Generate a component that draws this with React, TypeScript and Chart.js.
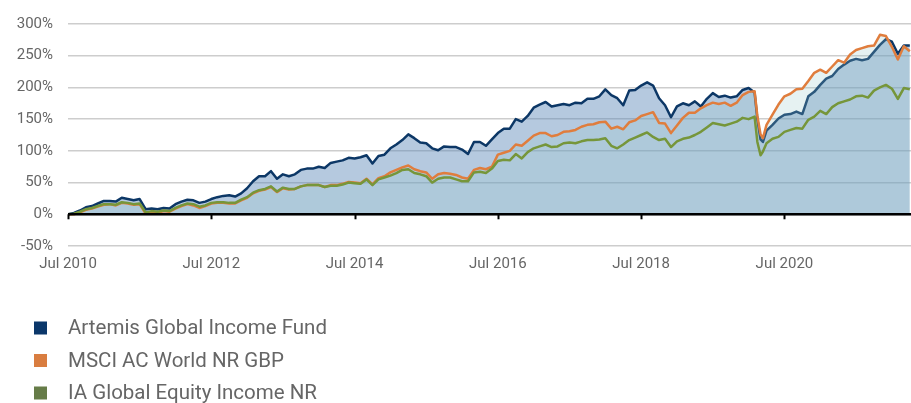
import React, { useEffect, useRef } from 'react';
import { Chart, registerables } from 'chart.js';

Chart.register(...registerables);

const seriesNames = [
  'Artemis Global Income Fund',
  'MSCI AC World NR GBP',
  'IA Global Equity Income NR',
];

const dates = [
  '2010-07-01', '2010-08-01', '2010-09-01', '2010-10-01', '2010-11-01', '2010-12-01',
  '2011-01-01', '2011-02-01', '2011-03-01', '2011-04-01', '2011-05-01', '2011-06-01',
  '2011-07-01', '2011-08-01', '2011-09-01', '2011-10-01', '2011-11-01', '2011-12-01',
  '2012-01-01', '2012-02-01', '2012-03-01', '2012-04-01', '2012-05-01', '2012-06-01',
  '2012-07-01', '2012-08-01', '2012-09-01', '2012-10-01', '2012-11-01', '2012-12-01',
  '2013-01-01', '2013-02-01', '2013-03-01', '2013-04-01', '2013-05-01', '2013-06-01',
  '2013-07-01', '2013-08-01', '2013-09-01', '2013-10-01', '2013-11-01', '2013-12-01',
  '2014-01-01', '2014-02-01', '2014-03-01', '2014-04-01', '2014-05-01', '2014-06-01',
  '2014-07-01', '2014-08-01', '2014-09-01', '2014-10-01', '2014-11-01', '2014-12-01',
  '2015-01-01', '2015-02-01', '2015-03-01', '2015-04-01', '2015-05-01', '2015-06-01',
  '2015-07-01', '2015-08-01', '2015-09-01', '2015-10-01', '2015-11-01', '2015-12-01',
  '2016-01-01', '2016-02-01', '2016-03-01', '2016-04-01', '2016-05-01', '2016-06-01',
  '2016-07-01', '2016-08-01', '2016-09-01', '2016-10-01', '2016-11-01', '2016-12-01',
  '2017-01-01', '2017-02-01', '2017-03-01', '2017-04-01', '2017-05-01', '2017-06-01',
  '2017-07-01', '2017-08-01', '2017-09-01', '2017-10-01', '2017-11-01', '2017-12-01',
  '2018-01-01', '2018-02-01', '2018-03-01', '2018-04-01', '2018-05-01', '2018-06-01',
  '2018-07-01', '2018-08-01', '2018-09-01', '2018-10-01', '2018-11-01', '2018-12-01',
  '2019-01-01', '2019-02-01', '2019-03-01', '2019-04-01', '2019-05-01', '2019-06-01',
  '2019-07-01', '2019-08-01', '2019-09-01', '2019-10-01', '2019-11-01', '2019-12-01',
  '2020-01-01', '2020-02-01', '2020-02-15', '2020-03-01', '2020-03-13', '2020-04-01', '2020-05-01', '2020-06-01',
  '2020-07-01', '2020-08-01', '2020-09-01', '2020-10-01', '2020-11-01', '2020-12-01',
  '2021-01-01', '2021-02-01', '2021-03-01', '2021-04-01', '2021-05-01', '2021-06-01',
  '2021-07-01', '2021-08-01', '2021-09-01', '2021-10-01', '2021-11-01', '2021-12-01',
  '2022-01-01', '2022-02-01', '2022-03-01', '2022-04-01',
];

const artemis = [
  0, 2, 6, 11, 13, 17,
  21, 21, 20, 26, 24, 22, 24, 8, 9, 8, 10, 9,
  16, 20, 23, 22, 18, 20, 24, 27, 29, 30, 28, 33,
  41, 52, 60, 60, 68, 56, 63, 60, 63, 70, 72, 72,
  75, 73, 81, 83, 85, 89, 88, 90, 93, 80, 92, 94,
  104, 110, 117, 126, 120, 113, 112, 104, 101, 107, 106, 106,
  102, 95, 114, 114, 108, 118, 128, 135, 135, 150, 146, 155,
  168, 173, 177, 170, 172, 174, 172, 176, 175, 182, 182, 186,
  197, 188, 183, 172, 195, 196, 203, 208, 203, 183, 172, 153,
  170, 175, 172, 178, 170, 182, 191, 185, 187, 184, 186, 196,
  199, 192, 150, 118, 114, 132, 141, 151, 157, 158, 162, 158, 186, 193,
  204, 214, 218, 229, 236, 242, 245, 243, 245, 256, 267, 276,
  272, 253, 266, 266,
];

const msci = [
  0, 0, 3, 7, 9, 12,
  15, 16, 14, 18, 17, 15, 16, 1, 3, 2, 5, 4,
  9, 13, 16, 14, 10, 13, 17, 18, 18, 17, 17, 22,
  26, 33, 37, 39, 43, 35, 41, 39, 40, 44, 46, 46,
  46, 43, 46, 46, 48, 51, 50, 49, 56, 47, 57, 60,
  66, 70, 74, 77, 71, 68, 66, 56, 63, 65, 64, 62,
  58, 56, 70, 73, 71, 75, 94, 97, 100, 110, 108, 116,
  124, 128, 128, 123, 125, 130, 131, 133, 138, 141, 142, 145,
  146, 135, 138, 134, 145, 148, 155, 158, 161, 144, 143, 128,
  140, 152, 160, 160, 167, 172, 176, 174, 176, 171, 176, 188,
  193, 194, 155, 126, 120, 141, 157, 173, 186, 190, 197, 198, 210, 223,
  228, 223, 233, 243, 239, 252, 259, 262, 265, 266, 283, 281,
  264, 244, 265, 257,
];

const iaGlobal = [
  0, 1, 4, 8, 10, 13,
  16, 16, 15, 19, 18, 16, 17, 3, 5, 4, 6, 5,
  10, 14, 17, 16, 12, 14, 18, 19, 19, 18, 18, 23,
  27, 34, 38, 40, 44, 36, 42, 40, 40, 44, 46, 46,
  46, 43, 45, 45, 47, 50, 49, 48, 55, 46, 55, 58,
  61, 65, 70, 71, 65, 63, 60, 50, 56, 58, 58, 55,
  52, 52, 66, 67, 65, 72, 84, 86, 85, 95, 88, 98,
  104, 107, 110, 106, 107, 112, 113, 112, 115, 117, 117, 118,
  120, 108, 104, 110, 117, 121, 125, 129, 122, 117, 119, 106,
  115, 119, 121, 125, 130, 137, 144, 142, 140, 143, 146, 152,
  150, 154, 114, 93, 99, 112, 119, 122, 130, 133, 136, 135, 149, 154,
  163, 158, 169, 175, 178, 181, 186, 187, 184, 195, 200, 204,
  198, 182, 199, 197,
];

const xTickDates = ['2010-07-01', '2012-07-01', '2014-07-01', '2016-07-01', '2018-07-01', '2020-07-01'];
const xTickLabels = ['Jul 2010', 'Jul 2012', 'Jul 2014', 'Jul 2016', 'Jul 2018', 'Jul 2020'];
const xEndDate = '2022-04-07';

const yMin = -50;
const yMax = 300;
const yStep = 50;

const lineColors = ['#0c3766', '#e07d3d', '#76963a'];
const legendColors = ['#0b376a', '#d97d40', '#667c48'];
const fillColors = ['rgba(91,135,184,0.45)', 'rgba(150,200,200,0.24)'];

function monthOffset(d: string): number {
  const [y, m, day] = d.split('-').map(Number);
  return (y - 2010) * 12 + (m - 7) + (day - 1) / 30;
}

const FONT = 'Roboto, "Open Sans", sans-serif';

export default function App() {
  const ref = useRef<HTMLCanvasElement | null>(null);

  useEffect(() => {
    if (!ref.current) return;
    const xs = dates.map(monthOffset);
    const pts = (vals: number[]) => vals.map((v, i) => ({ x: xs[i], y: v }));
    const tickVals = xTickDates.map(monthOffset);

    const zeroAxis = {
      id: 'zeroAxis',
      afterDatasetsDraw(chart: any) {
        const { ctx, chartArea, scales } = chart;
        const y0 = scales.y.getPixelForValue(0);
        ctx.save();
        ctx.strokeStyle = '#000';
        ctx.lineWidth = 2.5;
        ctx.beginPath();
        ctx.moveTo(chartArea.left, y0);
        ctx.lineTo(chartArea.right, y0);
        ctx.stroke();
        ctx.lineWidth = 2;
        tickVals.forEach((v) => {
          const x = Math.round(scales.x.getPixelForValue(v)) + 0.5;
          ctx.beginPath();
          ctx.moveTo(x, y0);
          ctx.lineTo(x, y0 + 5);
          ctx.stroke();
        });
        ctx.restore();
      },
    };

    const legendDraw = {
      id: 'legendDraw',
      afterDraw(chart: any) {
        const { ctx, chartArea } = chart;
        ctx.save();
        ctx.font = '20.5px ' + FONT;
        ctx.textBaseline = 'middle';
        seriesNames.forEach((name, i) => {
          const y = chartArea.bottom + 82 + i * 32.5;
          ctx.fillStyle = legendColors[i];
          ctx.fillRect(34, y - 6.5, 13, 13);
          ctx.fillStyle = '#666666';
          ctx.fillText(name, 68, y + 1);
        });
        ctx.restore();
      },
    };

    const chart = new Chart(ref.current, {
      type: 'line',
      data: {
        datasets: [
          {
            label: seriesNames[0],
            data: pts(artemis),
            borderColor: lineColors[0],
            backgroundColor: fillColors[0],
            fill: 'origin',
            order: 3,
          },
          {
            label: seriesNames[1],
            data: pts(msci),
            borderColor: lineColors[1],
            backgroundColor: fillColors[1],
            fill: 'origin',
            order: 2,
          },
          {
            label: seriesNames[2],
            data: pts(iaGlobal),
            borderColor: lineColors[2],
            fill: false,
            order: 1,
          },
        ],
      },
      options: {
        animation: false,
        responsive: false,
        maintainAspectRatio: false,
        layout: { padding: { top: 20, right: 0, bottom: 127, left: 0 } },
        elements: {
          point: { radius: 0 },
          line: { borderWidth: 2.5, tension: 0, borderJoinStyle: 'round' },
        },
        plugins: {
          legend: { display: false },
          tooltip: { enabled: false },
        },
        scales: {
          x: {
            type: 'linear',
            min: 0,
            max: monthOffset(xEndDate),
            grid: { display: false, drawTicks: false },
            border: { display: false },
            afterBuildTicks: (axis: any) => {
              axis.ticks = tickVals.map((v) => ({ value: v }));
            },
            afterFit: (axis: any) => {
              axis.height = 30;
            },
            ticks: {
              padding: 9,
              color: '#666666',
              font: { size: 15, family: FONT },
              maxRotation: 0,
              autoSkip: false,
              callback: (value: any) => {
                const idx = tickVals.findIndex((t) => Math.abs(t - Number(value)) < 1e-6);
                return idx >= 0 ? xTickLabels[idx] : '';
              },
            },
          },
          y: {
            min: yMin,
            max: yMax,
            afterFit: (axis: any) => {
              axis.width = 68;
            },
            grid: { color: '#cdcdcd', lineWidth: 1.5, drawTicks: false },
            border: { display: false },
            ticks: {
              stepSize: yStep,
              padding: 15,
              color: '#666666',
              font: { size: 15, family: FONT },
              callback: (value: any) => value + '%',
            },
          },
        },
      },
      plugins: [zeroAxis, legendDraw],
    } as any);

    return () => chart.destroy();
  }, []);

  return (
    <div style={{ position: 'fixed', left: 0, top: 0, width: 911, height: 403, background: '#fff' }}>
      <canvas ref={ref} width={911} height={403} style={{ display: 'block', width: 911, height: 403 }} />
    </div>
  );
}
